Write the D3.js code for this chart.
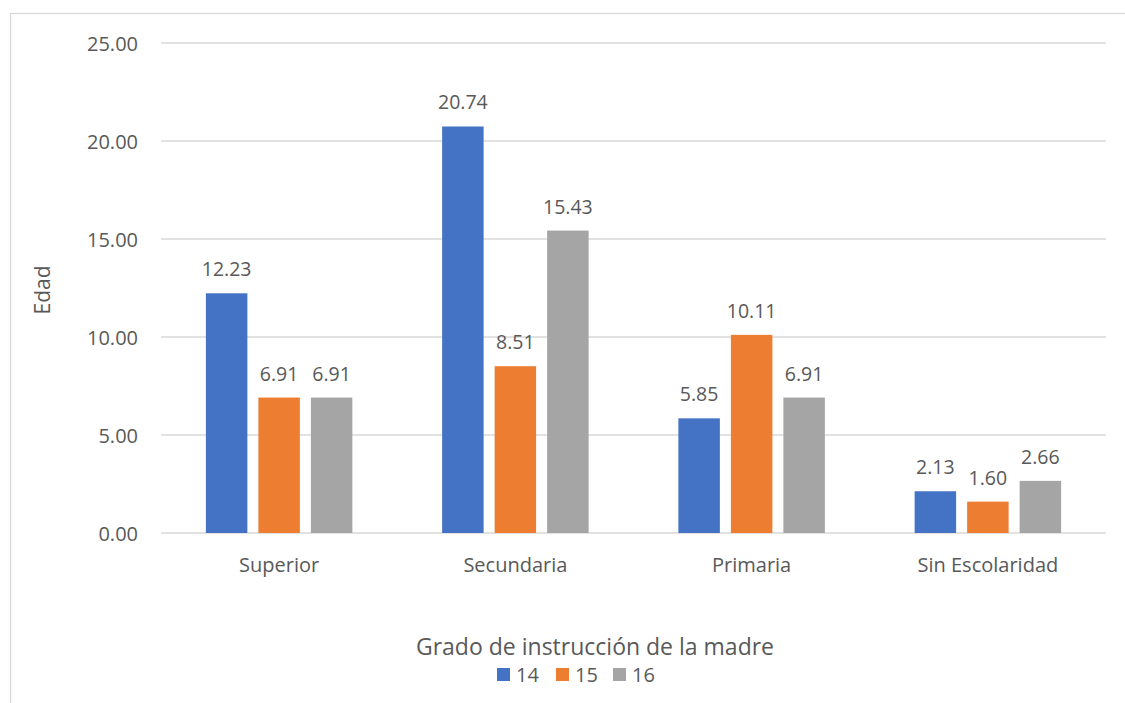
<!DOCTYPE html>
<html><head><meta charset="utf-8">
<script src="https://cdn.jsdelivr.net/npm/d3@7"></script>
<style>body{margin:0;background:#fff}svg{display:block;font-family:"Open Sans",sans-serif}</style>
</head><body><svg id="c" width="1125" height="703"></svg>
<script>
const categories = ["Superior","Secundaria","Primaria","Sin Escolaridad"];
const seriesNames = ["14","15","16"];
const s14 = [12.23, 20.74, 5.85, 2.13];
const s15 = [6.91, 8.51, 10.11, 1.60];
const s16 = [6.91, 15.43, 6.91, 2.66];
const yTicks = [0,5,10,15,20,25];
const colors = ["#4472c4","#ed7d31","#a5a5a5"];
const seriesValues = [s14, s15, s16];

const svg = d3.select("#c");
const txt = "#595959";
svg.append("rect").attr("x",10.5).attr("y",13.5).attr("width",1130).attr("height",700)
  .attr("fill","none").attr("stroke","#d9d9d9").attr("stroke-width",1.3);

const x0 = d3.scaleBand().domain(categories).range([161,1106]).paddingInner(0.38).paddingOuter(0.19);
const x1 = d3.scaleBand().domain(seriesNames).range([0,x0.bandwidth()]).paddingInner(0.21);
const y = d3.scaleLinear().domain([0,25]).range([533,43]);

svg.append("g").selectAll("line").data(yTicks).join("line")
  .attr("x1",161).attr("x2",1106).attr("y1",d=>y(d)).attr("y2",d=>y(d))
  .attr("stroke","#d9d9d9").attr("stroke-width",1.3);

const yAxis = d3.axisLeft(y).tickValues(yTicks).tickFormat(d3.format(".2f")).tickSize(0).tickPadding(0);
const ya = svg.append("g").attr("transform","translate(138,0)").call(yAxis);
ya.select(".domain").remove();
ya.selectAll("text").attr("fill",txt).style("font-size","20px").style("font-family","'Open Sans',sans-serif").attr("dy","0.35em");

const xAxis = d3.axisBottom(x0).tickSize(0).tickPadding(0);
const xa = svg.append("g").attr("transform","translate(0,565)").call(xAxis);
xa.select(".domain").remove();
xa.selectAll("text").attr("fill",txt).style("font-size","20px").style("font-family","'Open Sans',sans-serif").attr("dy","0.35em");

const data = categories.map((c,i)=>({cat:c, vals: seriesNames.map((s,j)=>({s, v: seriesValues[j][i], color: colors[j]}))}));
const g = svg.append("g").selectAll("g").data(data).join("g").attr("transform",d=>`translate(${x0(d.cat)},0)`);
g.selectAll("rect").data(d=>d.vals).join("rect")
  .attr("x",d=>x1(d.s)).attr("width",x1.bandwidth())
  .attr("y",d=>y(d.v)).attr("height",d=>y(0)-y(d.v)).attr("fill",d=>d.color);
g.selectAll("text").data(d=>d.vals).join("text")
  .attr("x",d=>x1(d.s)+x1.bandwidth()/2).attr("y",d=>y(d.v)-17)
  .attr("text-anchor","middle").attr("fill",txt).style("font-size","19.5px")
  .text(d=>d3.format(".2f")(d.v));

svg.append("text").attr("transform","translate(50,290) rotate(-90)").attr("text-anchor","middle")
  .attr("fill",txt).style("font-size","21px").text("Edad");
svg.append("text").attr("x",595).attr("y",655).attr("text-anchor","middle")
  .attr("fill",txt).style("font-size","23px").text("Grado de instrucción de la madre");

const legX = [497,556,613];
const lg = svg.append("g").selectAll("g").data(seriesNames).join("g")
  .attr("transform",(d,i)=>`translate(${legX[i]},668)`);
lg.append("rect").attr("width",13).attr("height",13).attr("fill",(d,i)=>colors[i]);
lg.append("text").attr("x",19).attr("y",14).attr("fill",txt).style("font-size","20px").text(d=>d);
</script></body></html>
